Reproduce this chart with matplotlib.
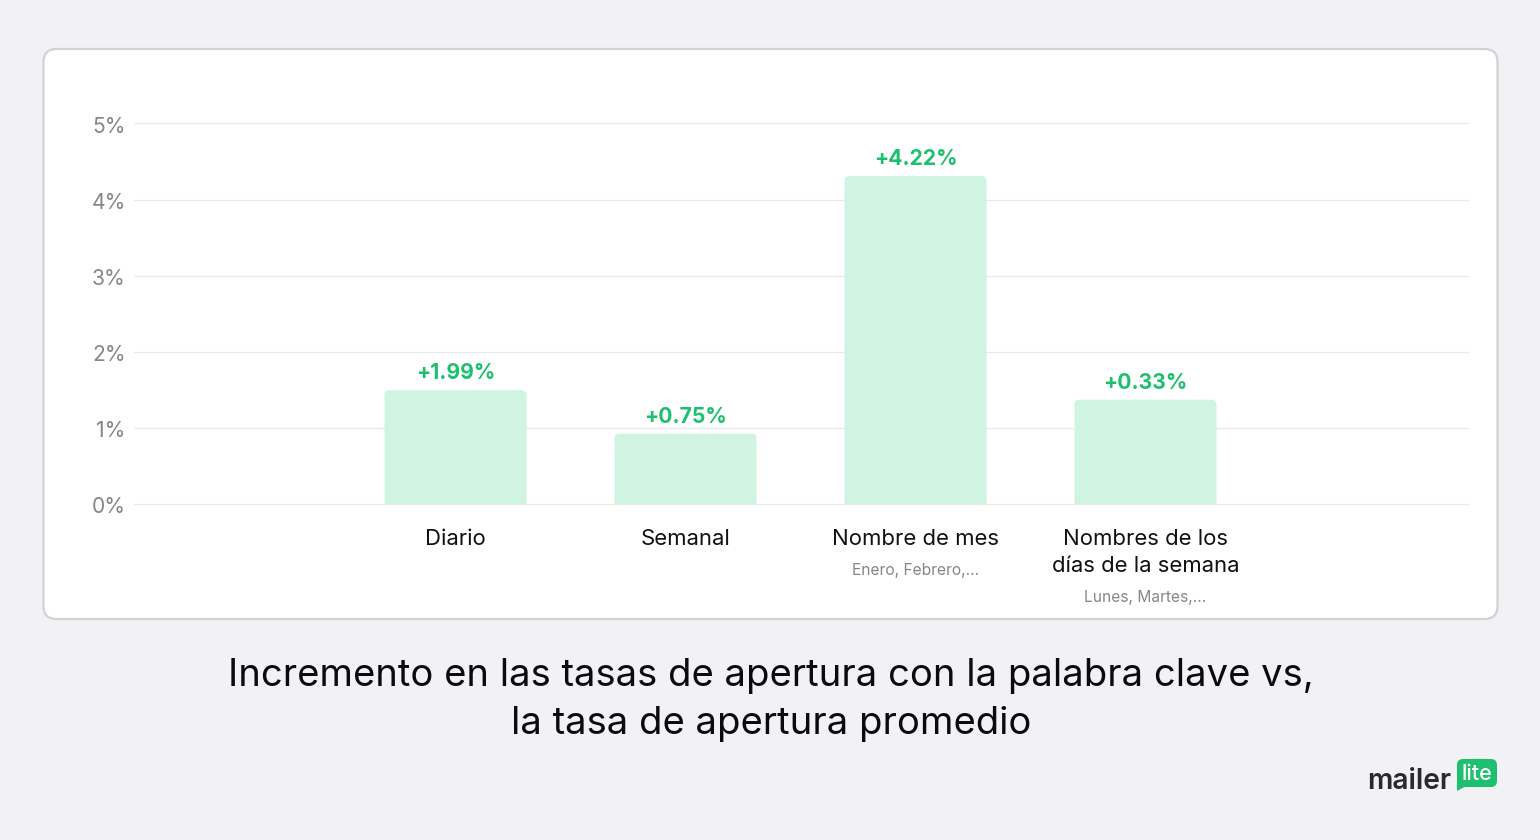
import matplotlib
matplotlib.use("Agg")
import matplotlib.pyplot as plt
from matplotlib.patches import FancyBboxPatch, PathPatch, Polygon
from matplotlib.path import Path
from matplotlib.transforms import ScaledTranslation

plt.rcParams["font.family"] = ["Inter", "DejaVu Sans"]

categories = ["Diario", "Semanal", "Nombre de mes", "Nombres de los\ndías de la semana"]
subtitles = ["", "", "Enero, Febrero,...", "Lunes, Martes,..."]
bar_heights = [1.495, 0.925, 4.31, 1.37]
bar_labels = ["+1.99%", "+0.75%", "+4.22%", "+0.33%"]
y_ticks = [0, 1, 2, 3, 4, 5]
y_tick_labels = ["0%", "1%", "2%", "3%", "4%", "5%"]

BG = "#f2f2f6"
BAR = "#cff4e2"
GREEN = "#1cc06f"
W, H = 1540, 840

fig = plt.figure(figsize=(W / 100, H / 100), dpi=100, facecolor=BG)

# background layer in pixel coords: card, title, logo
bg = fig.add_axes([0, 0, 1, 1])
bg.set_xlim(0, W)
bg.set_ylim(H, 0)
bg.axis("off")
bg.add_patch(FancyBboxPatch((43.5, 49), 1454, 570, boxstyle="round,pad=0,rounding_size=13",
                            fc="white", ec="#d2d2d4", lw=1.6))

bg.text(771, 676.5, "Incremento en las tasas de apertura con la palabra clave vs,",
        fontsize=27.5, color="#0b0b0b", ha="center", va="center")
bg.text(771, 724.5, "la tasa de apertura promedio",
        fontsize=27.5, color="#0b0b0b", ha="center", va="center")

# logo
bg.text(1409.5, 781.5, "mailer", fontsize=20.3, fontweight="semibold", color="#2a2a2e",
        ha="center", va="center")
bg.add_patch(FancyBboxPatch((1457, 759), 40, 28, boxstyle="round,pad=0,rounding_size=6",
                            fc=GREEN, ec="none"))
bg.add_patch(Polygon([(1457, 780), (1457, 791), (1468, 785)], fc=GREEN, ec="none"))
bg.text(1477, 773.5, "lite", fontsize=15.5, fontweight="medium", color="white",
        ha="center", va="center")

# chart: 0% at y=504.5, 5% at y=123.5, bars 230px apart
x0 = 455.5
step = 230.0
bar_w = 142 / step
ax = fig.add_axes([134 / W, 1 - 504 / H, (1467.5 - 134) / W, 380.5 / H])
ax.patch.set_alpha(0)
ax.set_xlim((134 - x0) / step, (1467.5 - x0) / step)
ax.set_ylim(0, 5)
for s in ax.spines.values():
    s.set_visible(False)
ax.set_yticks(y_ticks)
ax.set_yticklabels(y_tick_labels, fontsize=15.2, color="#85858a")
ax.tick_params(axis="y", length=0, pad=6)
ax.set_xticks([])
ax.grid(axis="y", color="#e9e9ec", lw=0.8, zorder=0)
ax.yaxis.grid(True, clip_on=False)
nudge = ScaledTranslation(0, -1.2 / 100, fig.dpi_scale_trans)
for lab in ax.get_yticklabels():
    lab.set_transform(lab.get_transform() + nudge)

# rounded top corners only
rx, ry = 5 / step, 5 / 76.1
for i, h in enumerate(bar_heights):
    l, r = i - bar_w / 2, i + bar_w / 2
    verts = [(l, 0), (l, h - ry), (l, h), (l + rx, h), (r - rx, h), (r, h), (r, h - ry), (r, 0), (l, 0)]
    codes = [Path.MOVETO, Path.LINETO, Path.CURVE3, Path.CURVE3, Path.LINETO,
             Path.CURVE3, Path.CURVE3, Path.LINETO, Path.CLOSEPOLY]
    ax.add_patch(PathPatch(Path(verts, codes), fc=BAR, ec="none", zorder=3))
    ax.annotate(bar_labels[i], (i, h), xytext=(0, 5), textcoords="offset points",
                ha="center", va="bottom", fontsize=15.2, fontweight="bold", color=GREEN)

# category labels under the axis
for i, cat in enumerate(categories):
    px = x0 + i * step
    lines = cat.split("\n")
    for j, line in enumerate(lines):
        bg.text(px, 539 + j * 27, line, fontsize=15.9, color="#111111", ha="center", va="center")
    if subtitles[i]:
        bg.text(px, 570.5 + (len(lines) - 1) * 27, subtitles[i], fontsize=11.2, color="#85858a",
                ha="center", va="center")

fig.savefig("out.png", dpi=100, facecolor=BG)
